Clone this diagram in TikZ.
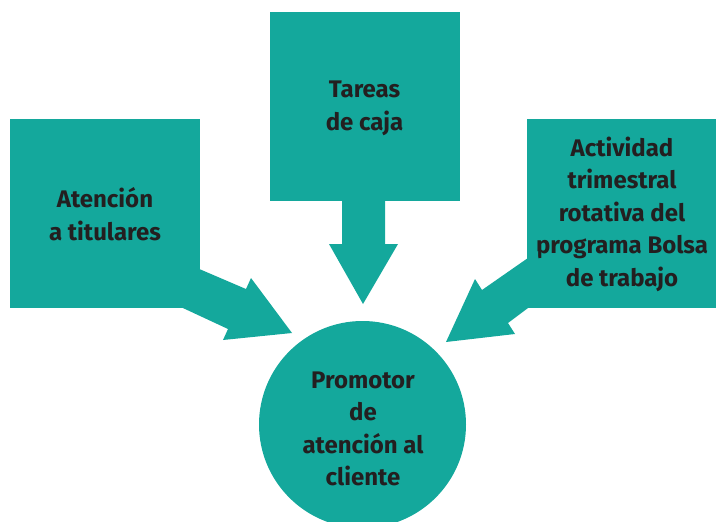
\documentclass[tikz,border=0pt]{standalone}
\usepackage{fontspec}
\setmainfont{Fira Sans}
\definecolor{teal1}{HTML}{14A89C}
\definecolor{ink}{HTML}{231F20}
\begin{document}
\begin{tikzpicture}[x=1pt,y=-1pt,
  txt/.style={align=center, text=ink, inner sep=0pt, font=\fontsize{24}{32.5}\selectfont\bfseries},
  box/.style={fill=teal1, draw=none, minimum width=190pt, minimum height=189pt, inner sep=0pt},
  circ/.style={circle, fill=teal1, draw=none, minimum size=207pt, inner sep=0pt},
  fat/.style={fill=teal1, draw=none}]
\useasboundingbox (0,0) rectangle (716,522);
\begin{scope}
\clip (0,0) rectangle (716,522);
\node[circ] (cli) at (362.5,424.5) {};
\end{scope}
\node[txt] (clit) at (363,429) {Promotor\\de\\atención al\\cliente};
\node[box] (tit) at (105,213.5) {};
\node[txt] (titt) at (105,214) {Atención\\a titulares};
\node[box] (caja) at (364.5,106.5) {};
\node[txt] (cajat) at (364.5,108.5) {Tareas\\de caja};
\node[box] (bolsa) at (622,213) {};
\node[txt] (bolsat) at (622,214) {Actividad\\trimestral\\rotativa del\\programa Bolsa\\de trabajo};
% arrows
\fill[fat] (190,265) -- (246,289) -- (251,278) -- (292,333) -- (223,340) -- (228,329) -- (170,302) -- cycle;
\fill[fat] (342,195) -- (342,244) -- (329,244) -- (363,304) -- (398,244) -- (385,244) -- (385,195) -- cycle;
\fill[fat] (538,251) -- (482,290) -- (475,279) -- (446,342) -- (515,334) -- (508,323) -- (540,299) -- cycle;
\end{tikzpicture}
\end{document}
